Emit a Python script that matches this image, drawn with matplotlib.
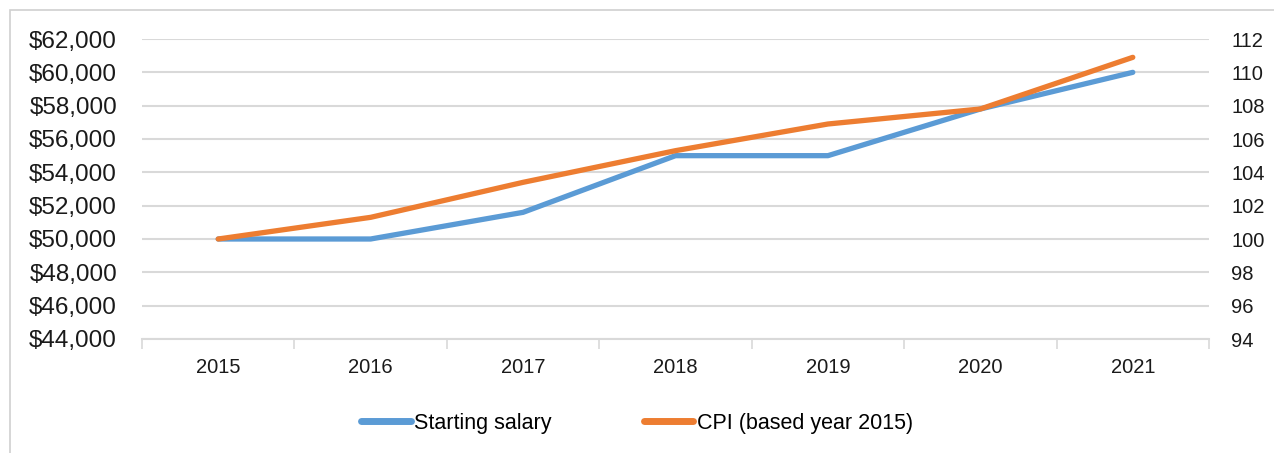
import matplotlib
matplotlib.use("Agg")
import matplotlib.pyplot as plt
from matplotlib.patches import Rectangle
from matplotlib.ticker import FuncFormatter, MultipleLocator

years = ["2015", "2016", "2017", "2018", "2019", "2020", "2021"]
salary = [50000, 50000, 51600, 55000, 55000, 57800, 60000]
cpi = [100.0, 101.3, 103.4, 105.3, 106.9, 107.8, 110.9]

BLUE = "#5B9BD5"
ORANGE = "#ED7D31"
GRID = "#D9D9D9"
TXT = "#1a1a1a"

fig = plt.figure(figsize=(12.74, 4.53), dpi=100)
fig.add_artist(Rectangle((10 / 1274, -0.05), 1.2, 1 - 10 / 453 + 0.05,
                         transform=fig.transFigure, fill=False,
                         edgecolor="#D0D0D0", linewidth=1.2))

ax = fig.add_axes([142 / 1274, 1 - 339 / 453, (1209 - 142) / 1274, 300 / 453])
ax2 = ax.twinx()

x = list(range(len(years)))
ax.plot(x, salary, color=BLUE, lw=3.8, solid_capstyle="round", zorder=3)
ax2.plot(x, cpi, color=ORANGE, lw=3.8, solid_capstyle="round", zorder=4)

ax.set_xlim(-0.5, len(years) - 0.5)
ax.set_ylim(44000, 62000)
ax2.set_ylim(94, 112)
ax.yaxis.set_major_locator(MultipleLocator(2000))
ax2.yaxis.set_major_locator(MultipleLocator(2))
ax.yaxis.set_major_formatter(FuncFormatter(lambda v, p: f"${v:,.0f}"))
ax2.yaxis.set_major_formatter(FuncFormatter(lambda v, p: f"{v:.0f}"))

ax.set_xticks(x)
ax.set_xticklabels(years)
ax.set_xticks([i + 0.5 for i in range(-1, len(years))], minor=True)
ax.tick_params(axis="x", which="major", length=0, pad=14, labelsize=14.5,
               labelcolor=TXT)
ax.tick_params(axis="x", which="minor", length=7, color=GRID, width=1.2)
ax.tick_params(axis="y", length=0, pad=18, labelsize=17.5, labelcolor=TXT)
ax2.tick_params(axis="y", length=0, pad=16, labelsize=14.5, labelcolor=TXT)
for lab in ax.get_yticklabels() + ax.get_xticklabels() + ax2.get_yticklabels():
    lab.set_family("Liberation Sans")

ax.grid(axis="y", color=GRID, lw=1.5)
ax.set_axisbelow(True)
for a in (ax, ax2):
    for s in ("top", "right", "left", "bottom"):
        a.spines[s].set_visible(False)
ax.spines["bottom"].set_visible(True)
ax.spines["bottom"].set_color(GRID)
ax.spines["bottom"].set_linewidth(1.5)

h1, = ax.plot([], [], color=BLUE, lw=5, solid_capstyle="round")
h2, = ax.plot([], [], color=ORANGE, lw=5, solid_capstyle="round")
fig.legend([h1, h2], ["Starting salary", "CPI (based year 2015)"],
           loc="center", bbox_to_anchor=(0.5, 1 - 423 / 453), ncol=2,
           frameon=False, handlelength=2.3, handletextpad=0.15,
           columnspacing=4.3, prop={"family": "Liberation Sans", "size": 15.5})

fig.savefig("out.png", dpi=100)
